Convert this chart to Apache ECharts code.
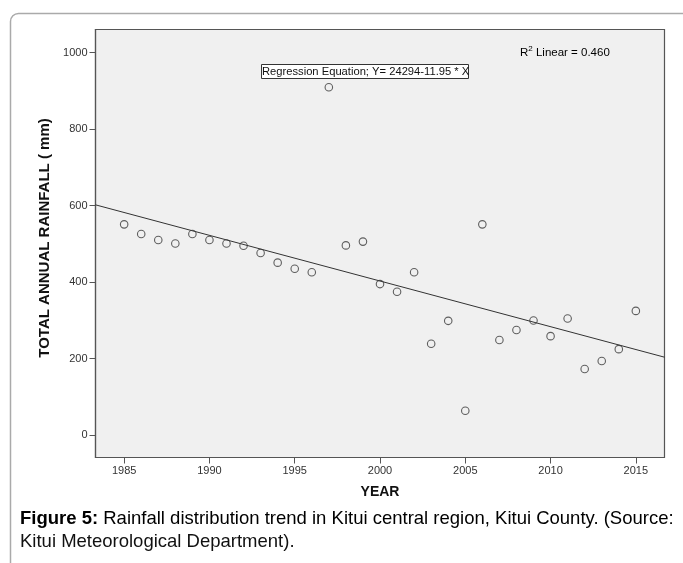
<!DOCTYPE html>
<html><head><meta charset="utf-8">
<script src="https://cdn.jsdelivr.net/npm/echarts@6/dist/echarts.min.js"></script>
<style>html,body{margin:0;padding:0;background:#fff;}#c{width:683px;height:563px;}</style>
</head><body><div id="c"></div>
<script>
const years = [1985,1986,1987,1988,1989,1990,1991,1992,1993,1994,1995,1996,1997,1998,1999,2000,2001,2002,2003,2004,2005,2006,2007,2008,2009,2010,2011,2012,2013,2014,2015];
const rainfall = [551,526,510,501,526,510,501,495,476,451,435,426,909,496,506,395,375,426,239,299,64,551,249,275,300,259,305,173,194,225,325];
const xTicks = [1985,1990,1995,2000,2005,2010,2015];
const yTicks = [0,200,400,600,800,1000];
const trendX = [1983.32, 2016.68];
const trendY = [602, 204];
const xRange = [1983.32, 2016.68];
const yRange = [-58, 1060];
const equationText = 'Regression Equation; Y= 24294-11.95 * X';
const r2Value = '0.460';

const FONT = '"Liberation Sans", Arial, sans-serif';
const chart = echarts.init(document.getElementById('c'), null, {renderer: 'canvas'});
const points = years.map((y, i) => [y, rainfall[i]]);
const trend = trendX.map((x, i) => [x, trendY[i]]);

chart.setOption({
  animation: false,
  backgroundColor: '#fff',
  grid: {
    left: 95.5, top: 29.5, right: 18.5, bottom: 105.5,
    show: true, backgroundColor: '#f0f0f0', borderColor: '#555', borderWidth: 1.2
  },
  xAxis: {
    type: 'value', min: xRange[0], max: xRange[1],
    name: 'YEAR', nameLocation: 'middle', nameGap: 28,
    nameTextStyle: {fontFamily: FONT, fontWeight: 'bold', fontSize: 14, color: '#111'},
    axisLine: {show: true, onZero: false, lineStyle: {color: '#555', width: 1.2}},
    axisTick: {show: true, length: 6, customValues: xTicks, lineStyle: {color: '#555'}},
    axisLabel: {customValues: xTicks, formatter: v => String(Math.round(v)), margin: 8, fontFamily: FONT, fontSize: 11, color: '#333'},
    splitLine: {show: false}
  },
  yAxis: {
    type: 'value', min: yRange[0], max: yRange[1],
    axisLine: {show: true, onZero: false, lineStyle: {color: '#555', width: 1.2}},
    axisTick: {show: true, length: 6, customValues: yTicks, lineStyle: {color: '#555'}},
    axisLabel: {customValues: yTicks, formatter: v => String(Math.round(v)), margin: 8, fontFamily: FONT, fontSize: 11, color: '#333'},
    splitLine: {show: false}
  },
  series: [
    {
      type: 'line', data: trend, symbol: 'none', silent: true,
      lineStyle: {color: '#333', width: 1}, z: 2
    },
    {
      type: 'scatter', data: points, symbol: 'circle', symbolSize: 7.5,
      itemStyle: {color: 'rgba(0,0,0,0)', borderColor: '#3a3a3a', borderWidth: 1.1}, z: 3
    }
  ],
  graphic: [
    {type: 'rect', z: -10, silent: true,
     shape: {x: 10.5, y: 13.5, width: 720, height: 620, r: 8},
     style: {fill: 'none', stroke: '#aaa', lineWidth: 1.5}},
    {type: 'text', z: 51, silent: true, x: 45, y: 238, rotation: Math.PI / 2,
     style: {text: 'TOTAL ANNUAL RAINFALL ( mm)', font: 'bold 15px ' + FONT, fill: '#111', align: 'center', verticalAlign: 'middle'}},
    {type: 'rect', z: 50, silent: true,
     shape: {x: 261.5, y: 64.5, width: 207, height: 14},
     style: {fill: '#fff', stroke: '#333', lineWidth: 1}},
    {type: 'text', z: 51, silent: true, x: 262, y: 72,
     style: {text: equationText, font: '11.2px ' + FONT, fill: '#111', verticalAlign: 'middle', align: 'left'}},
    {type: 'text', z: 51, silent: true, x: 520, y: 52,
     style: {
       text: '{n|R}{s|2}{n| Linear = ' + r2Value + '}',
       verticalAlign: 'middle', align: 'left',
       rich: {
         n: {fontFamily: FONT, fontSize: 11.5, color: '#111', verticalAlign: 'bottom', lineHeight: 14},
         s: {fontFamily: FONT, fontSize: 8, color: '#111', verticalAlign: 'top', lineHeight: 14}
       }
     }},
    {type: 'text', z: 51, silent: true, x: 20, y: 519,
     style: {
       text: '{b|Figure 5:}{n| Rainfall distribution trend in Kitui central region, Kitui County. (Source:}',
       verticalAlign: 'middle', align: 'left',
       rich: {
         b: {fontFamily: FONT, fontSize: 18.5, fontWeight: 'bold', color: '#111'},
         n: {fontFamily: FONT, fontSize: 18.5, color: '#111'}
       }
     }},
    {type: 'text', z: 51, silent: true, x: 20, y: 542,
     style: {text: 'Kitui Meteorological Department).', font: '18.5px ' + FONT, fill: '#111', verticalAlign: 'middle', align: 'left'}}
  ]
});
</script></body></html>
